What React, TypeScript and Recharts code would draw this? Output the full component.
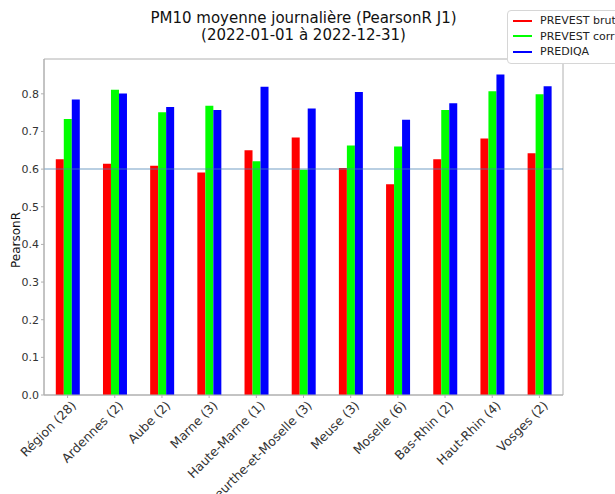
import React from "react";
import { BarChart, Bar, XAxis, YAxis, ReferenceLine, ReferenceArea } from "recharts";

const DEPARTEMENTS = [
  "Région (28)",
  "Ardennes (2)",
  "Aube (2)",
  "Marne (3)",
  "Haute-Marne (1)",
  "Meurthe-et-Moselle (3)",
  "Meuse (3)",
  "Moselle (6)",
  "Bas-Rhin (2)",
  "Haut-Rhin (4)",
  "Vosges (2)",
];

const PREVEST_BRUT = [0.626, 0.614, 0.609, 0.591, 0.65, 0.684, 0.603, 0.56, 0.626, 0.681, 0.642];
const PREVEST_CORR = [0.733, 0.811, 0.751, 0.768, 0.621, 0.598, 0.663, 0.66, 0.757, 0.807, 0.799];
const PREDIQA = [0.785, 0.801, 0.765, 0.757, 0.819, 0.761, 0.805, 0.731, 0.775, 0.851, 0.82];

const Y_TICKS = [0, 0.1, 0.2, 0.3, 0.4, 0.5, 0.6, 0.7, 0.8];
const Y_MAX = 0.8925;
const SEUIL = 0.6;

const SERIES = [
  { key: "brut", name: "PREVEST brut", color: "#ff0000" },
  { key: "corr", name: "PREVEST corr10h", color: "#00ff00" },
  { key: "prediqa", name: "PREDIQA", color: "#0000ff" },
];

const data = DEPARTEMENTS.map((name, i) => ({
  name,
  brut: PREVEST_BRUT[i],
  corr: PREVEST_CORR[i],
  prediqa: PREDIQA[i],
}));

const FONT = "'DejaVu Sans', sans-serif";
const FRAME = "#b0b0b0";
const TEXT = "#333";

// légende en haut à droite, qui déborde du cadre comme l'original matplotlib
const LegendBox = () => (
  <div
    style={{
      position: "absolute",
      left: 507,
      top: 10,
      border: "1px solid #d6d6d6",
      borderRadius: 4,
      background: "#fff",
      padding: "2px 0 3px 5px",
      fontSize: 11,
      color: "#222",
      width: 140,
    }}
  >
    {SERIES.map((s) => (
      <div key={s.key} style={{ display: "flex", alignItems: "center", height: 15.5 }}>
        <span
          style={{
            display: "inline-block",
            width: 19,
            height: 2,
            background: s.color,
            marginRight: 8,
          }}
        />
        <span style={{ whiteSpace: "nowrap" }}>{s.name}</span>
      </div>
    ))}
  </div>
);

export default function App() {
  return (
    <div
      style={{
        position: "absolute",
        left: 0,
        top: 0,
        width: 615,
        height: 494,
        overflow: "hidden",
        background: "#fff",
        fontFamily: FONT,
      }}
    >
      <div
        style={{
          position: "absolute",
          left: 0,
          width: 607,
          top: 10,
          textAlign: "center",
          fontSize: 15,
          lineHeight: "17px",
          color: "#111",
        }}
      >
        PM10 moyenne journalière (PearsonR J1)
        <br />
        (2022-01-01 à 2022-12-31)
      </div>
      <div
        style={{
          position: "absolute",
          left: 4,
          top: 240,
          transform: "translate(-50%, -50%) rotate(-90deg)",
          marginLeft: 12,
          fontSize: 12,
          color: "#111",
        }}
      >
        PearsonR
      </div>
      <BarChart
        width={615}
        height={494}
        data={data}
        margin={{ top: 59, right: 52, left: 0, bottom: 0 }}
        barCategoryGap="25%"
        barGap={0}
      >
        <XAxis
          dataKey="name"
          height={99}
          interval={0}
          stroke={FRAME}
          tickSize={3}
          tick={{ angle: -45, textAnchor: "end", fontSize: 12.5, fill: TEXT, fontFamily: FONT, dx: 3 }}
        />
        <YAxis
          width={44}
          domain={[0, Y_MAX]}
          ticks={Y_TICKS}
          tickFormatter={(v: number) => v.toFixed(1)}
          stroke={FRAME}
          tickSize={3}
          tick={{ fontSize: 11, fill: TEXT, fontFamily: FONT }}
          allowDataOverflow
        />
        {SERIES.map((s) => (
          <Bar key={s.key} dataKey={s.key} name={s.name} fill={s.color} isAnimationActive={false} />
        ))}
        <ReferenceLine y={SEUIL} stroke="#4682b4" strokeOpacity={0.5} strokeWidth={1.5} />
        {/* cadre complet autour de la zone de tracé */}
        <ReferenceArea y1={0} y2={Y_MAX} fill="none" stroke={FRAME} strokeWidth={1} />
      </BarChart>
      <LegendBox />
    </div>
  );
}
